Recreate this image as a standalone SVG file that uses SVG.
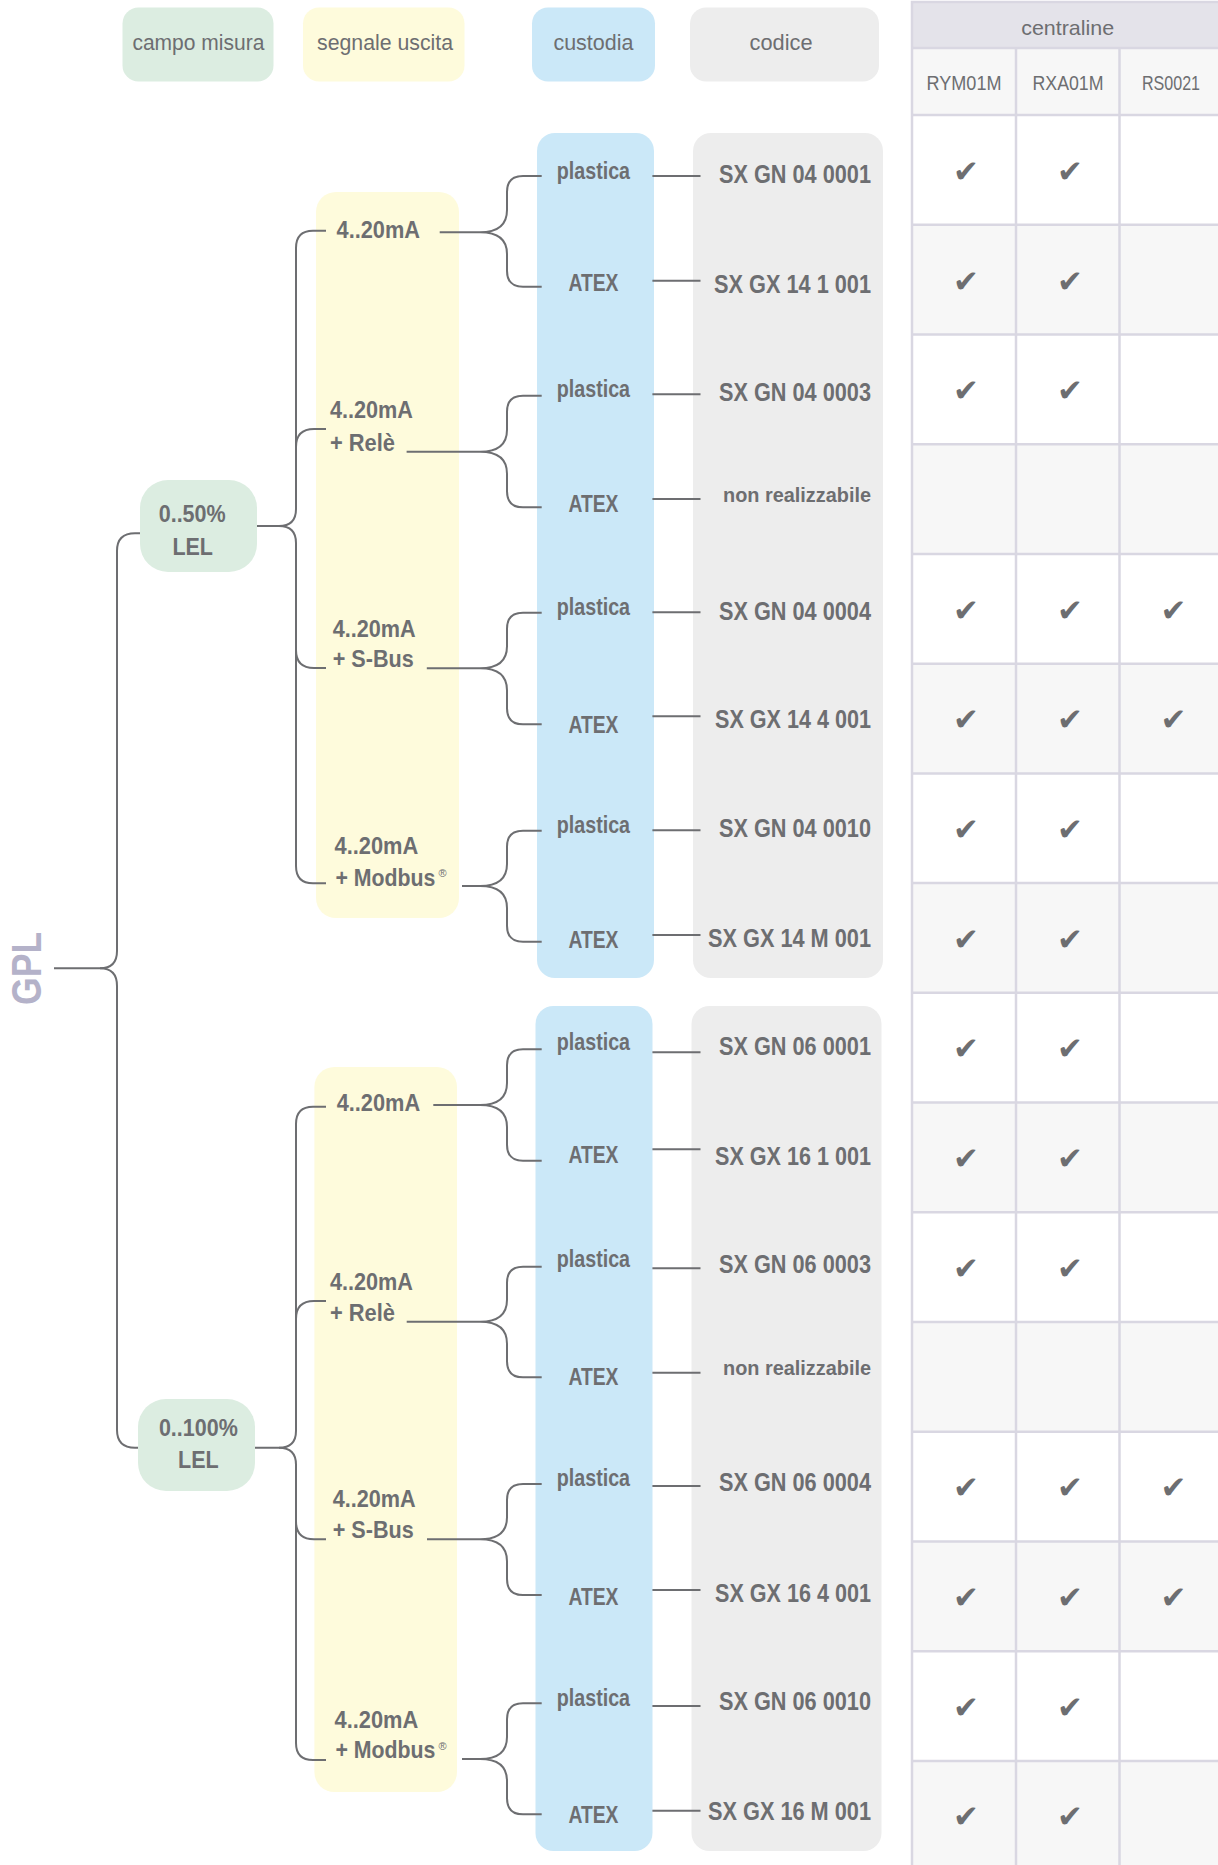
<svg xmlns="http://www.w3.org/2000/svg" width="1218" height="1865" viewBox="0 0 1218 1865">
<style>
.t{font-family:"Liberation Sans",Arial,sans-serif;fill:#6d6e71}
.hd{font-size:22px;text-anchor:middle}
.th{font-size:21px;text-anchor:middle}
.b{font-weight:bold;font-size:24px}
.m{text-anchor:middle}
.cd{font-weight:bold;font-size:25px;text-anchor:end}
.nr{font-weight:bold;font-size:21px;text-anchor:end}
.ln{fill:none;stroke:#6d6e71;stroke-width:2}
.g{fill:#dcede1}.y{fill:#fefbdc}.bl{fill:#cbe8f8}.gr{fill:#ededed}
.grid{stroke:#d9d7e2;stroke-width:2.5;fill:none}
.ck{font-family:"DejaVu Sans",sans-serif;font-size:31px;fill:#6d6e71;text-anchor:middle}
</style>
<rect width="1218" height="1865" fill="#ffffff"/>

<!-- header legend -->
<g id="hdr-campo"><rect class="g" x="122.5" y="7.5" width="151" height="74" rx="16"/><text class="t hd" x="198.4" y="50" textLength="132" lengthAdjust="spacingAndGlyphs">campo misura</text></g>
<g id="hdr-segnale"><rect class="y" x="303" y="7.5" width="161.5" height="74" rx="16"/><text class="t hd" x="385" y="50" textLength="136" lengthAdjust="spacingAndGlyphs">segnale uscita</text></g>
<g id="hdr-custodia"><rect class="bl" x="532" y="7.5" width="123" height="74" rx="16"/><text class="t hd" x="593.4" y="50" textLength="80" lengthAdjust="spacingAndGlyphs">custodia</text></g>
<g id="hdr-codice"><rect class="gr" x="690" y="7.5" width="189" height="74" rx="16"/><text class="t hd" x="781" y="50" textLength="63" lengthAdjust="spacingAndGlyphs">codice</text></g>

<!-- table -->
<g id="table">
<rect x="912" y="2" width="310" height="46" fill="#e4e3ea"/>
<rect x="912" y="48" width="310" height="67" fill="#f7f7f7"/>
<rect x="912" y="224.73" width="310" height="109.73" fill="#f7f7f7"/>
<rect x="912" y="444.19" width="310" height="109.73" fill="#f7f7f7"/>
<rect x="912" y="663.65" width="310" height="109.73" fill="#f7f7f7"/>
<rect x="912" y="883.11" width="310" height="109.73" fill="#f7f7f7"/>
<rect x="912" y="1102.57" width="310" height="109.73" fill="#f7f7f7"/>
<rect x="912" y="1322.03" width="310" height="109.73" fill="#f7f7f7"/>
<rect x="912" y="1541.49" width="310" height="109.73" fill="#f7f7f7"/>
<rect x="912" y="1760.95" width="310" height="109.73" fill="#f7f7f7"/>
<path class="grid" d="M912 1866V2H1220M912 48H1220M912 115H1220M912 224.73H1220M912 334.46H1220M912 444.19H1220M912 553.92H1220M912 663.65H1220M912 773.38H1220M912 883.11H1220M912 992.84H1220M912 1102.57H1220M912 1212.3H1220M912 1322.03H1220M912 1431.76H1220M912 1541.49H1220M912 1651.22H1220M912 1760.95H1220M1016 48V1866M1119.5 48V1866"/>
<text class="t th" x="1067.7" y="35" textLength="93" lengthAdjust="spacingAndGlyphs">centraline</text>
<text class="t th" x="964" y="90" textLength="75" lengthAdjust="spacingAndGlyphs">RYM01M</text>
<text class="t th" x="1068" y="90" textLength="71" lengthAdjust="spacingAndGlyphs">RXA01M</text>
<text class="t th" x="1171" y="90" textLength="58" lengthAdjust="spacingAndGlyphs">RS0021</text>
<g id="checks">
<text class="ck" x="966" y="182">✔</text><text class="ck" x="1070" y="182">✔</text>
<text class="ck" x="966" y="292">✔</text><text class="ck" x="1070" y="292">✔</text>
<text class="ck" x="966" y="401">✔</text><text class="ck" x="1070" y="401">✔</text>
<text class="ck" x="966" y="621">✔</text><text class="ck" x="1070" y="621">✔</text><text class="ck" x="1173.5" y="621">✔</text>
<text class="ck" x="966" y="730">✔</text><text class="ck" x="1070" y="730">✔</text><text class="ck" x="1173.5" y="730">✔</text>
<text class="ck" x="966" y="840">✔</text><text class="ck" x="1070" y="840">✔</text>
<text class="ck" x="966" y="950">✔</text><text class="ck" x="1070" y="950">✔</text>
<text class="ck" x="966" y="1059">✔</text><text class="ck" x="1070" y="1059">✔</text>
<text class="ck" x="966" y="1169">✔</text><text class="ck" x="1070" y="1169">✔</text>
<text class="ck" x="966" y="1279">✔</text><text class="ck" x="1070" y="1279">✔</text>
<text class="ck" x="966" y="1498">✔</text><text class="ck" x="1070" y="1498">✔</text><text class="ck" x="1173.5" y="1498">✔</text>
<text class="ck" x="966" y="1608">✔</text><text class="ck" x="1070" y="1608">✔</text><text class="ck" x="1173.5" y="1608">✔</text>
<text class="ck" x="966" y="1718">✔</text><text class="ck" x="1070" y="1718">✔</text>
<text class="ck" x="966" y="1827">✔</text><text class="ck" x="1070" y="1827">✔</text>
</g>
</g>

<!-- column backgrounds -->
<g id="columns">
<rect class="y" x="316" y="192" width="143" height="726" rx="20"/>
<rect class="y" x="314.4" y="1067" width="142.6" height="725" rx="20"/>
<rect class="bl" x="537" y="133" width="117" height="845" rx="18"/>
<rect class="bl" x="535.5" y="1006" width="117" height="845" rx="18"/>
<rect class="gr" x="693" y="133" width="190" height="845" rx="18"/>
<rect class="gr" x="691.5" y="1006" width="190" height="845" rx="18"/>
</g>

<!-- connectors -->
<g id="connectors" class="ln">
<path d="M54 968.3H100Q117 968.3 117 951V551Q117 533.3 135 533.3H152"/>
<path d="M100 968.3Q117 968.3 117 986V1430Q117 1447.7 135 1447.7H152"/>
<path d="M242 526H279Q296 526 296 509V248Q296 230.7 313 230.7H326"/>
<path d="M279 526Q296 526 296 543V866Q296 883.3 313 883.3H326"/>
<path d="M296 447Q296 429 314 429H326"/>
<path d="M296 650Q296 668 314 668H326"/>
<path d="M242 1447.7H279Q296 1447.7 296 1430.7V1124Q296 1106.7 313 1106.7H326"/>
<path d="M279 1447.7Q296 1447.7 296 1464.7V1743Q296 1760 313 1760H326"/>
<path d="M296 1319Q296 1301 314 1301H326"/>
<path d="M296 1521.3Q296 1539.3 314 1539.3H326"/>

<path d="M439.7 232.3H480Q507 232.3 507 210V192Q507 176 523 176H541.7M480 232.3Q507 232.3 507 254V270.7Q507 286.7 523 286.7H541.7"/>
<path d="M406.6 451.7H480Q507 451.7 507 429.7V411.7Q507 395.7 523 395.7H541.7M480 451.7Q507 451.7 507 473.7V491.3Q507 507.3 523 507.3H541.7"/>
<path d="M426.8 668.3H480Q507 668.3 507 646.3V628.7Q507 612.7 523 612.7H541.7M480 668.3Q507 668.3 507 690.3V708.3Q507 724.3 523 724.3H541.7"/>
<path d="M462 886H480Q507 886 507 864V846.7Q507 830.7 523 830.7H541.7M480 886Q507 886 507 908V925.7Q507 941.7 523 941.7H541.7"/>
<path d="M433.3 1105H480Q507 1105 507 1083V1065.3Q507 1049.3 523 1049.3H541.7M480 1105Q507 1105 507 1127V1144.7Q507 1160.7 523 1160.7H541.7"/>
<path d="M406.7 1321.7H480Q507 1321.7 507 1299.7V1282.7Q507 1266.7 523 1266.7H541.7M480 1321.7Q507 1321.7 507 1343.7V1361.3Q507 1377.3 523 1377.3H541.7"/>
<path d="M427 1539.3H480Q507 1539.3 507 1517.3V1500Q507 1484 523 1484H541.7M480 1539.3Q507 1539.3 507 1561.3V1579Q507 1595 523 1595H541.7"/>
<path d="M462 1759H480Q507 1759 507 1737V1719.3Q507 1703.3 523 1703.3H541.7M480 1759Q507 1759 507 1781V1798.3Q507 1814.3 523 1814.3H541.7"/>

<path d="M652.4 176H700.5M652.4 280.7H700.5M652.4 394.3H700.5M652.4 499H700.5M652.4 612.3H700.5M652.4 716.3H700.5M652.4 830.3H700.5M652.4 935H700.5"/>
<path d="M652.4 1052.3H700.5M652.4 1149.3H700.5M652.4 1268.3H700.5M652.4 1372.7H700.5M652.4 1486H700.5M652.4 1590H700.5M652.4 1706H700.5M652.4 1810.7H700.5"/>
</g>

<!-- root -->
<g id="gpl"><text class="t" transform="translate(41 968.4) rotate(-90)" text-anchor="middle" font-weight="bold" font-size="42" style="fill:#b4b2c9" textLength="73" lengthAdjust="spacingAndGlyphs">GPL</text></g>

<!-- campo misura nodes -->
<g id="campo-50"><rect class="g" x="140" y="480" width="117" height="92" rx="28"/>
<text class="t b m" x="192.2" y="521.7" textLength="67" lengthAdjust="spacingAndGlyphs">0..50%</text>
<text class="t b m" x="192.7" y="555" textLength="40.6" lengthAdjust="spacingAndGlyphs">LEL</text></g>
<g id="campo-100"><rect class="g" x="138" y="1399" width="117" height="92" rx="28"/>
<text class="t b m" x="198.4" y="1436" textLength="79" lengthAdjust="spacingAndGlyphs">0..100%</text>
<text class="t b m" x="198.4" y="1468.3" textLength="40.7" lengthAdjust="spacingAndGlyphs">LEL</text></g>

<!-- segnale nodes -->
<g id="sig-1a"><text class="t b" x="336.6" y="238" textLength="83.4" lengthAdjust="spacingAndGlyphs">4..20mA</text></g>
<g id="sig-1b"><text class="t b" x="330" y="418.3" textLength="83" lengthAdjust="spacingAndGlyphs">4..20mA</text><text class="t b" x="330" y="450.7" textLength="65" lengthAdjust="spacingAndGlyphs">+ Relè</text></g>
<g id="sig-1c"><text class="t b" x="332.7" y="636.7" textLength="83" lengthAdjust="spacingAndGlyphs">4..20mA</text><text class="t b" x="332.7" y="666.7" textLength="81" lengthAdjust="spacingAndGlyphs">+ S-Bus</text></g>
<g id="sig-1d"><text class="t b" x="334.6" y="854" textLength="83.7" lengthAdjust="spacingAndGlyphs">4..20mA</text><text class="t b" x="335.4" y="885.7" textLength="100" lengthAdjust="spacingAndGlyphs">+ Modbus</text><text class="t" x="438.5" y="877" font-size="11">®</text></g>
<g id="sig-2a"><text class="t b" x="336.7" y="1110.7" textLength="83.4" lengthAdjust="spacingAndGlyphs">4..20mA</text></g>
<g id="sig-2b"><text class="t b" x="330" y="1290" textLength="83" lengthAdjust="spacingAndGlyphs">4..20mA</text><text class="t b" x="330" y="1320.7" textLength="65" lengthAdjust="spacingAndGlyphs">+ Relè</text></g>
<g id="sig-2c"><text class="t b" x="332.7" y="1507.3" textLength="83" lengthAdjust="spacingAndGlyphs">4..20mA</text><text class="t b" x="332.7" y="1538.3" textLength="81" lengthAdjust="spacingAndGlyphs">+ S-Bus</text></g>
<g id="sig-2d"><text class="t b" x="334.6" y="1727.7" textLength="83.7" lengthAdjust="spacingAndGlyphs">4..20mA</text><text class="t b" x="335.4" y="1758.3" textLength="100" lengthAdjust="spacingAndGlyphs">+ Modbus</text><text class="t" x="438.5" y="1749.5" font-size="11">®</text></g>

<!-- custodia nodes -->
<g id="cus-0"><text class="t b m" x="593.4" y="178.5" textLength="73.3" lengthAdjust="spacingAndGlyphs">plastica</text></g>
<g id="cus-1"><text class="t b m" x="593.4" y="291" textLength="50" lengthAdjust="spacingAndGlyphs">ATEX</text></g>
<g id="cus-2"><text class="t b m" x="593.4" y="397" textLength="73.3" lengthAdjust="spacingAndGlyphs">plastica</text></g>
<g id="cus-3"><text class="t b m" x="593.4" y="511.7" textLength="50" lengthAdjust="spacingAndGlyphs">ATEX</text></g>
<g id="cus-4"><text class="t b m" x="593.4" y="615" textLength="73.3" lengthAdjust="spacingAndGlyphs">plastica</text></g>
<g id="cus-5"><text class="t b m" x="593.4" y="732.7" textLength="50" lengthAdjust="spacingAndGlyphs">ATEX</text></g>
<g id="cus-6"><text class="t b m" x="593.4" y="833.3" textLength="73.3" lengthAdjust="spacingAndGlyphs">plastica</text></g>
<g id="cus-7"><text class="t b m" x="593.4" y="948.3" textLength="50" lengthAdjust="spacingAndGlyphs">ATEX</text></g>
<g id="cus-8"><text class="t b m" x="593.4" y="1050" textLength="73.3" lengthAdjust="spacingAndGlyphs">plastica</text></g>
<g id="cus-9"><text class="t b m" x="593.4" y="1163.3" textLength="50" lengthAdjust="spacingAndGlyphs">ATEX</text></g>
<g id="cus-10"><text class="t b m" x="593.4" y="1266.7" textLength="73.3" lengthAdjust="spacingAndGlyphs">plastica</text></g>
<g id="cus-11"><text class="t b m" x="593.4" y="1385" textLength="50" lengthAdjust="spacingAndGlyphs">ATEX</text></g>
<g id="cus-12"><text class="t b m" x="593.4" y="1486" textLength="73.3" lengthAdjust="spacingAndGlyphs">plastica</text></g>
<g id="cus-13"><text class="t b m" x="593.4" y="1605" textLength="50" lengthAdjust="spacingAndGlyphs">ATEX</text></g>
<g id="cus-14"><text class="t b m" x="593.4" y="1706" textLength="73.3" lengthAdjust="spacingAndGlyphs">plastica</text></g>
<g id="cus-15"><text class="t b m" x="593.4" y="1823" textLength="50" lengthAdjust="spacingAndGlyphs">ATEX</text></g>

<!-- codice nodes -->
<g id="cod-0"><text class="t cd" x="871" y="183.3" textLength="152" lengthAdjust="spacingAndGlyphs">SX GN 04 0001</text></g>
<g id="cod-1"><text class="t cd" x="871" y="292.7" textLength="157" lengthAdjust="spacingAndGlyphs">SX GX 14 1 001</text></g>
<g id="cod-2"><text class="t cd" x="871" y="400.7" textLength="152" lengthAdjust="spacingAndGlyphs">SX GN 04 0003</text></g>
<g id="cod-3"><text class="t nr" x="871" y="501.7" textLength="148" lengthAdjust="spacingAndGlyphs">non realizzabile</text></g>
<g id="cod-4"><text class="t cd" x="871" y="620" textLength="152" lengthAdjust="spacingAndGlyphs">SX GN 04 0004</text></g>
<g id="cod-5"><text class="t cd" x="871" y="728.3" textLength="156" lengthAdjust="spacingAndGlyphs">SX GX 14 4 001</text></g>
<g id="cod-6"><text class="t cd" x="871" y="837.3" textLength="152" lengthAdjust="spacingAndGlyphs">SX GN 04 0010</text></g>
<g id="cod-7"><text class="t cd" x="871" y="946.7" textLength="163" lengthAdjust="spacingAndGlyphs">SX GX 14 M 001</text></g>
<g id="cod-8"><text class="t cd" x="871" y="1055" textLength="152" lengthAdjust="spacingAndGlyphs">SX GN 06 0001</text></g>
<g id="cod-9"><text class="t cd" x="871" y="1165" textLength="156" lengthAdjust="spacingAndGlyphs">SX GX 16 1 001</text></g>
<g id="cod-10"><text class="t cd" x="871" y="1273.3" textLength="152" lengthAdjust="spacingAndGlyphs">SX GN 06 0003</text></g>
<g id="cod-11"><text class="t nr" x="871" y="1375" textLength="148" lengthAdjust="spacingAndGlyphs">non realizzabile</text></g>
<g id="cod-12"><text class="t cd" x="871" y="1491" textLength="152" lengthAdjust="spacingAndGlyphs">SX GN 06 0004</text></g>
<g id="cod-13"><text class="t cd" x="871" y="1602" textLength="156" lengthAdjust="spacingAndGlyphs">SX GX 16 4 001</text></g>
<g id="cod-14"><text class="t cd" x="871" y="1710" textLength="152" lengthAdjust="spacingAndGlyphs">SX GN 06 0010</text></g>
<g id="cod-15"><text class="t cd" x="871" y="1820" textLength="163" lengthAdjust="spacingAndGlyphs">SX GX 16 M 001</text></g>
</svg>
